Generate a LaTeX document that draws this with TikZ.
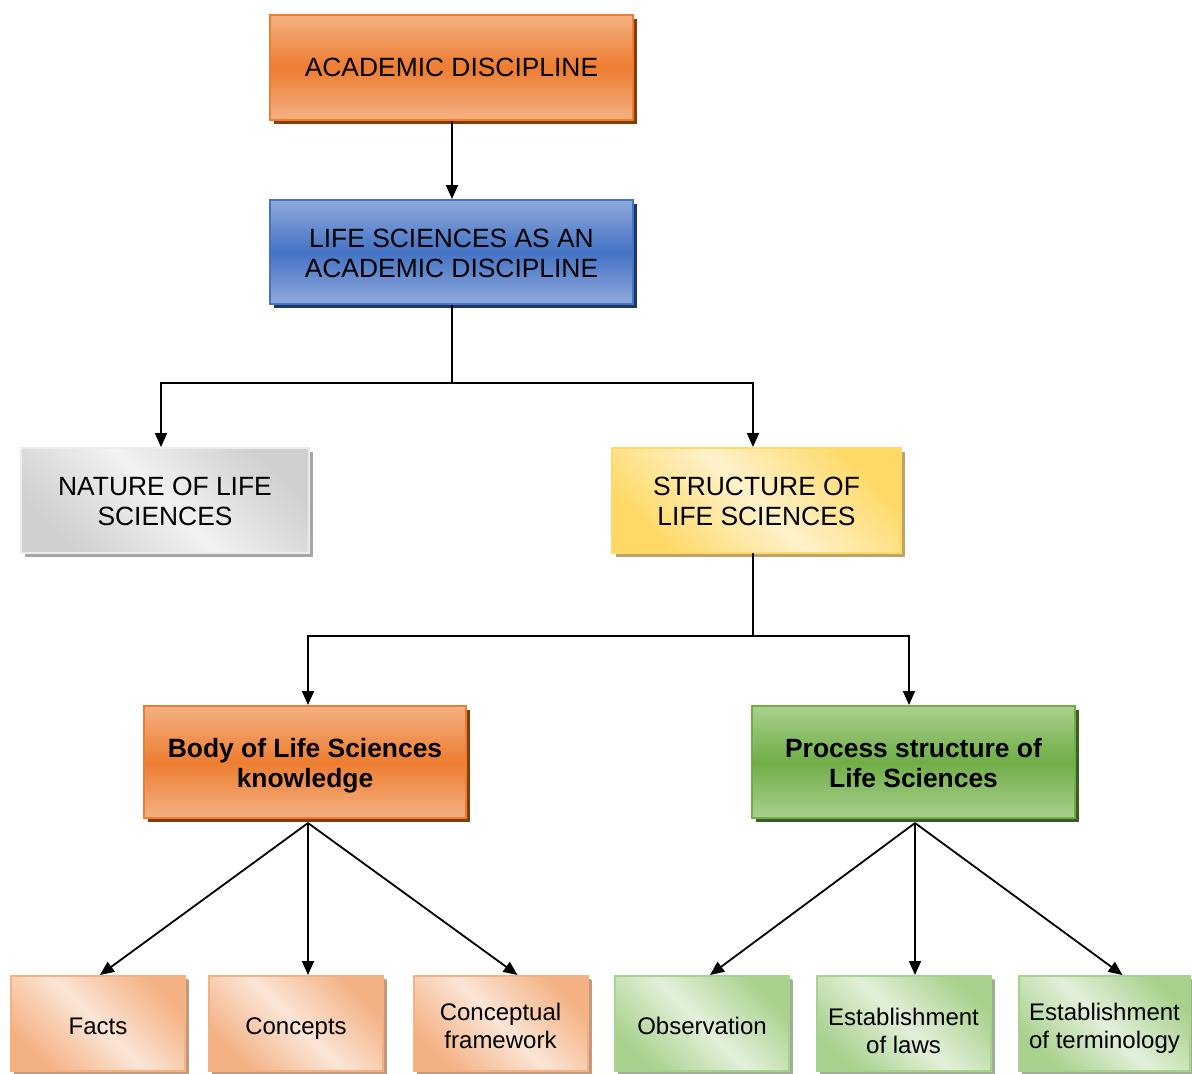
\documentclass[tikz,border=0pt]{standalone}
\usepackage{fontspec}
\setmainfont{Liberation Sans}
\usetikzlibrary{arrows.meta,shadows}
\definecolor{orMid}{HTML}{ED7D31}
\definecolor{orLight}{HTML}{F4B183}
\definecolor{orShadow}{HTML}{843C0C}
\definecolor{blMid}{HTML}{4472C4}
\definecolor{blLight}{HTML}{8FAADC}
\definecolor{blShadow}{HTML}{203864}
\definecolor{grDark}{HTML}{D0D0D0}
\definecolor{grLight}{HTML}{F2F2F2}
\definecolor{grShadow}{HTML}{A6A6A6}
\definecolor{yeDark}{HTML}{FFD966}
\definecolor{yeLight}{HTML}{FFF2CC}
\definecolor{yeShadow}{HTML}{BFA46A}
\definecolor{gnMid}{HTML}{70AD47}
\definecolor{gnLight}{HTML}{A9D18E}
\definecolor{gnShadow}{HTML}{3B5E27}
\definecolor{poLight}{HTML}{FBE5D6}
\definecolor{poShadow}{HTML}{C49A7C}
\definecolor{pgLight}{HTML}{E2F0D9}
\definecolor{pgShadow}{HTML}{9FAF94}
\tikzset{
  x=0.5pt, y=-0.5pt,
  box/.style={rectangle, inner sep=0pt, line width=1pt},
  bigtxt/.style={align=center, inner sep=0pt, font=\fontsize{13.2}{15}\selectfont},
  smalltxt/.style={align=center, inner sep=0pt, font=\fontsize{12}{14}\selectfont},
  vshade/.style n args={3}{draw=#1, top color=#2, bottom color=#2, middle color=#1,
    drop shadow={shadow xshift=2pt, shadow yshift=-2pt, fill=#3, opacity=1}},
  dshade/.style n args={4}{draw=#1, top color=#2, bottom color=#2, middle color=#3, shading angle=-45,
    drop shadow={shadow xshift=2pt, shadow yshift=-2pt, fill=#4, opacity=1}},
  small/.style={minimum width=87pt, minimum height=47.5pt,
    drop shadow={shadow xshift=1.5pt, shadow yshift=-1.5pt, fill=#1, opacity=1}},
  conn/.style={line width=0.9pt, -{Triangle[length=7pt, width=6pt]}},
  plain/.style={line width=0.9pt},
}
\begin{document}
\begin{tikzpicture}
\useasboundingbox (0,0) rectangle (1192,1073);
\fill[white] (0,0) rectangle (1192,1073);

% boxes
\node[box, vshade={orMid}{orLight}{orShadow}, minimum width=181.5pt, minimum height=52.5pt] (acad) at (451.5,67.5) {};
\node[box, vshade={blMid}{blLight}{blShadow}, minimum width=181.5pt, minimum height=52pt] (life) at (451.5,252) {};
\node[box, dshade={grDark}{grDark}{grLight}{grShadow}, draw=white!85!gray, minimum width=144pt, minimum height=52.5pt] (nature) at (165,500.5) {};
\node[box, dshade={yeDark}{yeDark}{yeLight}{yeShadow}, minimum width=144.5pt, minimum height=52.5pt] (struct) at (756.5,500.5) {};
\node[box, vshade={orMid}{orLight}{orShadow}, minimum width=161pt, minimum height=56pt] (body) at (305,762) {};
\node[box, vshade={gnMid}{gnLight}{gnShadow}, minimum width=161.5pt, minimum height=56pt] (proc) at (913.5,762) {};

\node[box, dshade={orLight}{orLight}{poLight}{poShadow}, small=poShadow] (facts) at (98,1023.5) {};
\node[box, dshade={orLight}{orLight}{poLight}{poShadow}, small=poShadow] (conc) at (296,1023.5) {};
\node[box, dshade={orLight}{orLight}{poLight}{poShadow}, small=poShadow] (cf) at (500.5,1023.5) {};
\node[box, dshade={gnLight}{gnLight}{pgLight}{pgShadow}, small=pgShadow] (obs) at (702,1023.5) {};
\node[box, dshade={gnLight}{gnLight}{pgLight}{pgShadow}, small=pgShadow] (laws) at (903.5,1023.5) {};
\node[box, dshade={gnLight}{gnLight}{pgLight}{pgShadow}, small=pgShadow, minimum width=85.5pt] (term) at (1104.5,1023.5) {};

% texts
\node[bigtxt] (acadT) at ([yshift=-1.7pt]acad.center) {\strut ACADEMIC DISCIPLINE\strut};
\node[bigtxt] (lifeT) at ([yshift=-2.2pt]life.center) {\strut LIFE SCIENCES AS AN\\ACADEMIC DISCIPLINE\strut};
\node[bigtxt] (natureT) at ([yshift=-2.2pt]nature.center) {\strut NATURE OF LIFE\\SCIENCES\strut};
\node[bigtxt] (structT) at ([yshift=-2.2pt]struct.center) {\strut STRUCTURE OF\\LIFE SCIENCES\strut};
\node[bigtxt, font=\fontsize{13.2}{15}\selectfont\bfseries] (bodyT) at ([yshift=-2.2pt]body.center) {\strut Body of Life Sciences\\knowledge\strut};
\node[bigtxt, font=\fontsize{13.2}{15}\selectfont\bfseries] (procT) at ([yshift=-2.2pt]proc.center) {\strut Process structure of\\Life Sciences\strut};

\node[smalltxt] (factsT) at ([yshift=-2.75pt]facts.center) {\strut Facts\strut};
\node[smalltxt] (concT) at ([yshift=-2.75pt]conc.center) {\strut Concepts\strut};
\node[smalltxt] (cfT) at ([yshift=-2.75pt]cf.center) {\strut Conceptual\\framework\strut};
\node[smalltxt] (obsT) at ([yshift=-2.75pt]obs.center) {\strut Observation\strut};
\node[smalltxt] (lawsT) at ([yshift=-5pt]laws.center) {\strut Establishment\\of laws\strut};
\node[smalltxt] (termT) at ([yshift=-2.75pt]term.center) {\strut Establishment\\of terminology\strut};

% connectors
\coordinate (h1) at (452,383);
\coordinate (h1l) at (161,383);
\coordinate (h1r) at (753,383);
\draw[conn] (acad.south -| h1) -- (life.north -| h1);
\draw[plain] (life.south -| h1) -- (h1);
\draw[conn] (h1) -- (h1l) -- (nature.north -| h1l);
\draw[conn] (h1) -- (h1r) -- (struct.north -| h1r);

\coordinate (s0) at (753,553);
\coordinate (h2) at (753,636);
\coordinate (h2l) at (308,636);
\coordinate (h2r) at (909,636);
\draw[plain] (s0) -- (h2);
\draw[conn] (h2) -- (h2l) -- (body.north -| h2l);
\draw[conn] (h2) -- (h2r) -- (proc.north -| h2r);

\coordinate (b0) at (308,823);
\coordinate (p0) at (915,823);
\draw[conn] (b0) -- ([xshift=1pt]facts.north);
\draw[conn] (b0) -- ([xshift=6pt]conc.north);
\draw[conn] (b0) -- ([xshift=8.5pt]cf.north);
\draw[conn] (p0) -- ([xshift=4pt]obs.north);
\draw[conn] (p0) -- ([xshift=5.75pt]laws.north);
\draw[conn] (p0) -- ([xshift=9pt]term.north);
\end{tikzpicture}
\end{document}
